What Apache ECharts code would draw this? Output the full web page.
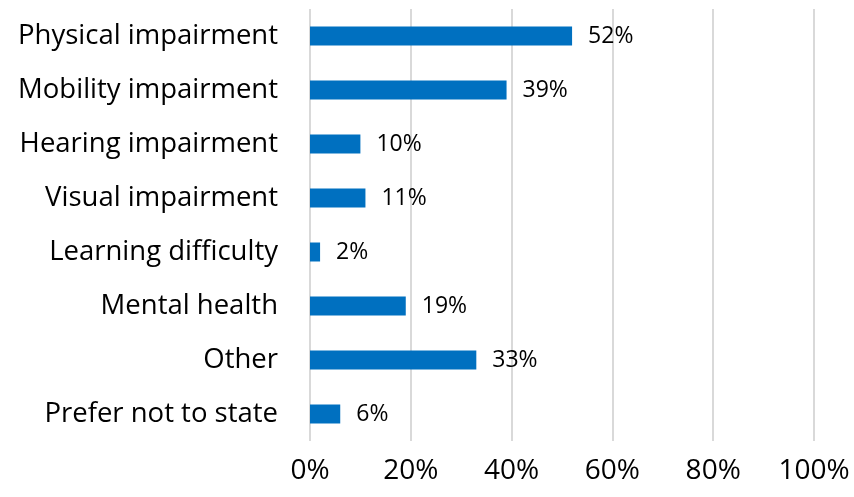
<!DOCTYPE html>
<html><head><meta charset="utf-8">
<script src="https://cdn.jsdelivr.net/npm/echarts@6/dist/echarts.min.js"></script>
<style>html,body{margin:0;padding:0;background:#fff}#c{width:854px;height:497px}</style>
</head><body><div id="c"></div>
<script>
const categories = ["Physical impairment","Mobility impairment","Hearing impairment","Visual impairment","Learning difficulty","Mental health","Other","Prefer not to state"];
const values = [52,39,10,11,2,19,33,6];
const xTicks = [0,20,40,60,80,100];
const FONT = "Open Sans";
const chart = echarts.init(document.getElementById('c'), null, {renderer:'canvas'});
chart.setOption({
  animation:false,
  textStyle:{fontFamily:FONT},
  grid:{left:310,right:40,top:9,bottom:56},
  xAxis:{type:'value',min:xTicks[0],max:xTicks[xTicks.length-1],interval:20,
    axisLine:{show:false},axisTick:{show:false},
    splitLine:{show:true,lineStyle:{color:'#d9d9d9',width:2}},
    axisLabel:{formatter:'{value}%',fontSize:28,color:'#000',margin:16,fontFamily:FONT}},
  yAxis:{type:'category',data:categories,inverse:true,
    axisLine:{show:false},axisTick:{show:false},
    axisLabel:{fontSize:27.5,color:'#000',margin:32,fontFamily:FONT}},
  series:[{type:'bar',data:values,barWidth:19,itemStyle:{color:'#0070C0'},
    label:{show:true,position:'right',distance:16,formatter:'{c}%',fontSize:23,color:'#000',fontFamily:FONT}}]
});
</script></body></html>
